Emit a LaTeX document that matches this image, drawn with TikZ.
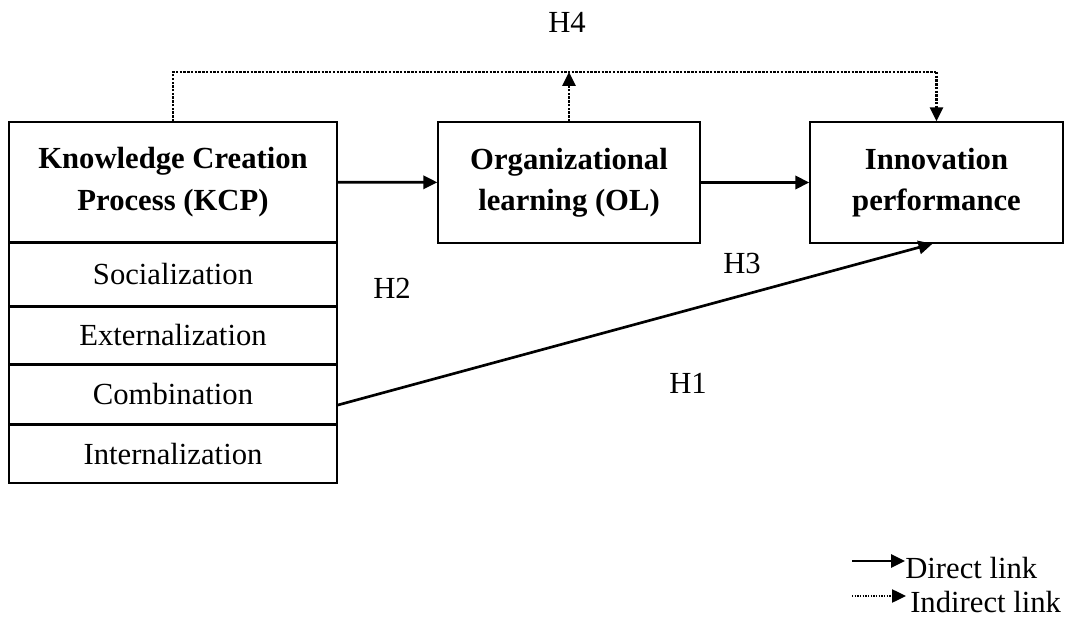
\documentclass[tikz,border=0pt]{standalone}
\usepackage{fontspec}
\setmainfont{Liberation Serif}
\usepackage{tikz}
\usetikzlibrary{arrows.meta}

\begin{document}
\begin{tikzpicture}[x=0.75pt,y=-0.75pt,>={Triangle[length=10.5pt,width=10pt]},
    font=\fontsize{23}{31}\selectfont,
    box/.style={draw,line width=1.1pt,inner sep=0pt,align=center},
    direct/.style={->,line width=2pt},
    indirect/.style={line width=1.8pt,densely dotted}]
    \useasboundingbox (0,0) rectangle (1078,620);

    \node[box,minimum width=246pt,minimum height=90pt,font=\fontsize{23}{31}\selectfont\bfseries] (kcp) at (173,182) {Knowledge Creation\\Process (KCP)};
    \node[box,minimum width=246pt,minimum height=46.5pt,anchor=north] (soc) at (kcp.south) {Socialization};
    \node[box,minimum width=246pt,minimum height=42.75pt,anchor=north] (ext) at (soc.south) {Externalization};
    \node[box,minimum width=246pt,minimum height=43.5pt,anchor=north] (comb) at (ext.south) {Combination};
    \node[box,minimum width=246pt,minimum height=43.5pt,anchor=north] (int) at (comb.south) {Internalization};
    \node[box,minimum width=196.5pt,minimum height=90.75pt,font=\fontsize{23}{31}\selectfont\bfseries] (ol) at (569,182.5) {Organizational\\learning (OL)};
    \node[box,minimum width=189.75pt,minimum height=90.75pt,font=\fontsize{23}{31}\selectfont\bfseries] (ip) at (936.5,182.5) {Innovation\\performance};

    \node (h4) at (567,22) {H4};
    \node (h3) at (742,263) {H3};
    \node (h2) at (392,288) {H2};
    \node (h1) at (688,383) {H1};

    \coordinate (top) at (0,72);
    \draw[direct] (kcp) -- (ol);
    \draw[direct] (ol) -- (ip);
    \draw[direct] ([yshift=-8pt]comb.east) -- ([xshift=-3pt]ip.south);
    \draw[indirect] (kcp.north) -- (kcp.north |- top) -- (ip.north |- top);
    \draw[indirect] (ip.north |- top) -- ([yshift=10pt]ip.north);
    \draw[->,line width=1.6pt] ([yshift=11pt]ip.north) -- (ip.north);
    \draw[indirect] (ol.north) -- ([yshift=-10pt]ol.north |- top);
    \draw[->,line width=1.6pt] ([yshift=-11pt]ol.north |- top) -- (ol.north |- top);

    \node[anchor=west,inner sep=0pt] (dl) at (905,568) {Direct link};
    \node[anchor=west,inner sep=0pt] (il) at (910,602) {Indirect link};
    \coordinate (dls) at (852,561);
    \coordinate (ils) at (852,596);
    \draw[->,line width=1.5pt] (dls) -- (dls -| dl.west);
    \draw[line width=1pt,densely dotted] (ils) -- ([xshift=-12pt]ils -| il.west);
    \draw[->,line width=1pt] ([xshift=-12pt]ils -| il.west) -- ([xshift=-3pt]ils -| il.west);
\end{tikzpicture}
\end{document}
